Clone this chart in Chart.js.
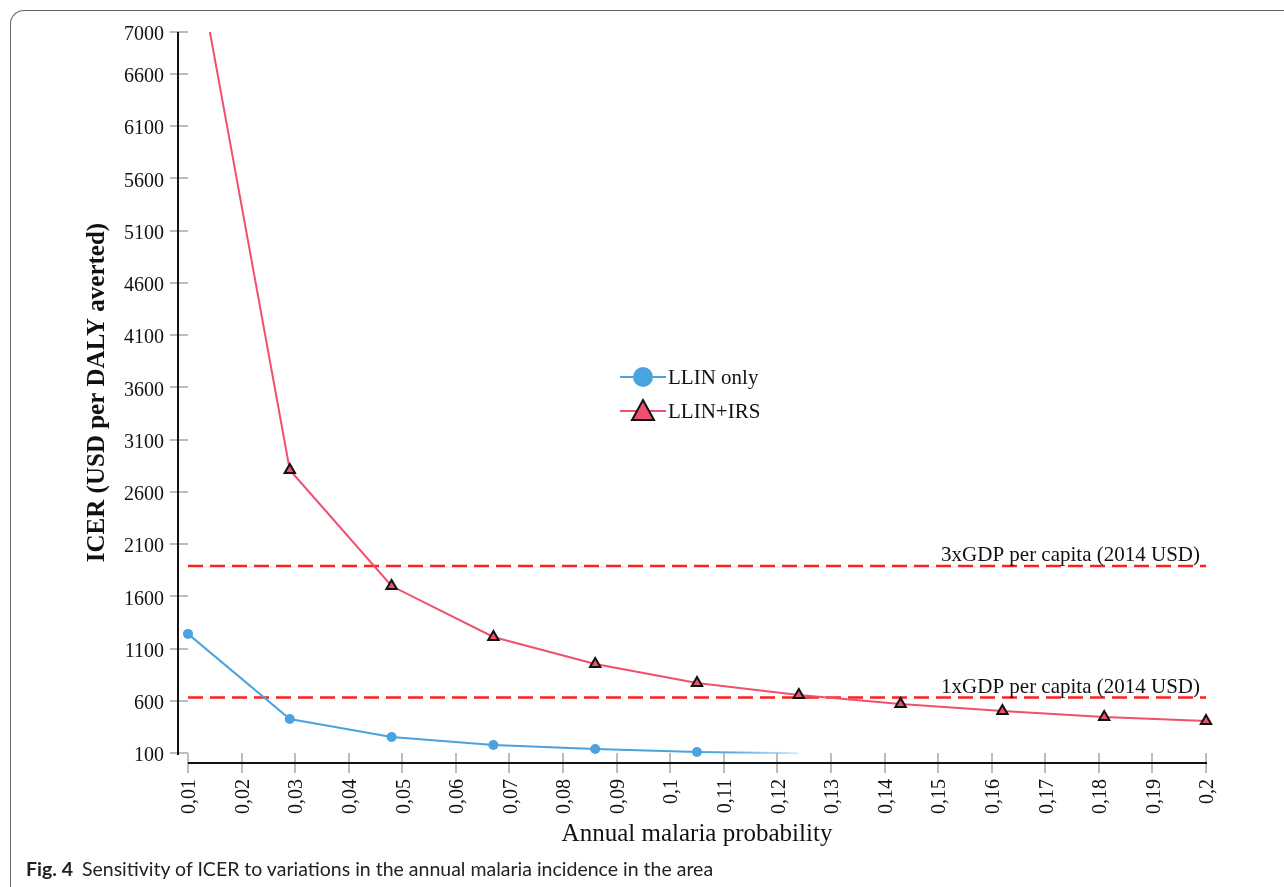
<!DOCTYPE html>
<html>
<head>
<meta charset="utf-8">
<script src="https://cdn.jsdelivr.net/npm/chart.js@4.4.1/dist/chart.umd.min.js"></script>
<style>
html,body{margin:0;padding:0;background:#fff;}
#wrap{position:relative;width:1284px;height:887px;overflow:hidden;}
#frame{position:absolute;left:10px;top:10px;width:1400px;height:1000px;border-left:1.5px solid #666;border-top:1.5px solid #666;border-top-left-radius:14px;box-sizing:border-box;}
#c{position:absolute;left:0;top:0;}
#caption{position:absolute;left:26px;top:857px;font-family:Lato,"Noto Sans",sans-serif;font-size:19.5px;color:#222;white-space:nowrap;}
#caption b{font-weight:bold;margin-right:9px;}
.leg{position:absolute;left:620px;height:30px;display:flex;align-items:center;font-family:"Liberation Serif",serif;font-size:21px;color:#111;}
.leg svg{margin-right:2px;}
</style>
</head>
<body>
<div id="wrap">
  <div id="frame"></div>
  <canvas id="c" width="1284" height="887"></canvas>
  <div class="leg" style="top:362px;">
    <svg width="46" height="30"><line x1="0" y1="15" x2="46" y2="15" stroke="#4aa3df" stroke-width="2"/><circle cx="23" cy="15" r="10" fill="#4aa3df"/></svg>
    <span>LLIN only</span>
  </div>
  <div class="leg" style="top:396px;">
    <svg width="46" height="30"><line x1="0" y1="15" x2="46" y2="15" stroke="#f0506e" stroke-width="2"/><polygon points="23,4 34,24 12,24" fill="#f0506e" stroke="#111" stroke-width="2" stroke-linejoin="miter"/></svg>
    <span>LLIN+IRS</span>
  </div>
  <div id="caption"><b>Fig. 4</b>Sensitivity of ICER to variations in the annual malaria incidence in the area</div>
</div>
<script>
// ---- data ----
const xValues = [0.01, 0.029, 0.048, 0.067, 0.086, 0.105, 0.124, 0.143, 0.162, 0.181, 0.2];
const llinOnly = [1240, 425, 253, 177, 138, 110, 98];
const llinIrs = [8150, 2808, 1698, 1210, 952, 770, 655, 569, 502, 444, 406];
const gdp1x = 630;
const gdp3x = 1890;
const gdpLabels = ['1xGDP per capita (2014 USD)', '3xGDP per capita (2014 USD)'];
const xTickValues = [0.01,0.02,0.03,0.04,0.05,0.06,0.07,0.08,0.09,0.1,0.11,0.12,0.13,0.14,0.15,0.16,0.17,0.18,0.19,0.2];
const xTickLabels = ['0,01','0,02','0,03','0,04','0,05','0,06','0,07','0,08','0,09','0,1','0,11','0,12','0,13','0,14','0,15','0,16','0,17','0,18','0,19','0,2'];
const yTickValues = [100,600,1100,1600,2100,2600,3100,3600,4100,4600,5100,5600,6100,6600,7000];
const yTickLabels = ['100','600','1100','1600','2100','2600','3100','3600','4100','4600','5100','5600','6100','6600','7000'];

const BLUE = '#4aa3df';
const RED = '#f0506e';
const DASH_RED = '#ff1f1f';
const SERIF = '"Liberation Serif", "Times New Roman", serif';

const xMin = xTickValues[0], xMax = xTickValues[xTickValues.length - 1];

function pts(vals) { return vals.map((y, i) => ({x: xValues[i], y})); }

const axisLines = {
  id: 'axisLines',
  afterDraw(chart) {
    const {ctx, chartArea: a} = chart;
    ctx.save();
    ctx.strokeStyle = '#111';
    ctx.lineWidth = 2;
    ctx.beginPath();
    ctx.moveTo(a.left - 10, a.top);
    ctx.lineTo(a.left - 10, a.bottom + 2);
    ctx.moveTo(a.left, a.bottom + 10);
    ctx.lineTo(a.right + 1, a.bottom + 10);
    ctx.stroke();
    // GDP labels
    const xs = chart.scales.x, ys = chart.scales.y;
    ctx.fillStyle = '#111';
    ctx.font = '21px ' + SERIF;
    ctx.textAlign = 'right';
    ctx.textBaseline = 'alphabetic';
    [gdp1x, gdp3x].forEach((v, i) => {
      ctx.fillText(gdpLabels[i], xs.getPixelForValue(xMax) - 6, ys.getPixelForValue(v) - 5);
    });
    ctx.restore();
  }
};

const lastBlue = llinOnly.length - 1;

new Chart(document.getElementById('c'), {
  type: 'line',
  data: {
    datasets: [
      {
        label: 'LLIN only',
        data: pts(llinOnly),
        borderColor: BLUE,
        backgroundColor: BLUE,
        borderWidth: 2,
        pointRadius: ctx => ctx.dataIndex === lastBlue ? 0 : 5,
        pointBorderWidth: 0,
        pointBackgroundColor: BLUE,
        tension: 0,
        clip: false,
        segment: {
          borderColor: ctx => {
            if (ctx.p1DataIndex !== lastBlue) return BLUE;
            const g = ctx.chart.ctx.createLinearGradient(ctx.p0.x, 0, ctx.p1.x + 20, 0);
            g.addColorStop(0, 'rgba(74,163,223,1)');
            g.addColorStop(0.3, 'rgba(74,163,223,0.9)');
            g.addColorStop(1, 'rgba(74,163,223,0)');
            return g;
          }
        }
      },
      {
        label: 'LLIN+IRS',
        data: pts(llinIrs),
        borderColor: RED,
        backgroundColor: RED,
        borderWidth: 2,
        pointStyle: 'triangle',
        pointRadius: 6,
        pointBorderWidth: 2,
        pointBorderColor: '#111',
        pointBackgroundColor: RED,
        tension: 0,
        clip: {left: 10, right: 10, top: 0, bottom: 10}
      },
      {
        label: '1xGDP',
        data: [{x: xMin, y: gdp1x}, {x: xMax, y: gdp1x}],
        borderColor: DASH_RED,
        borderWidth: 2.5,
        borderDash: [15, 7],
        pointRadius: 0
      },
      {
        label: '3xGDP',
        data: [{x: xMin, y: gdp3x}, {x: xMax, y: gdp3x}],
        borderColor: DASH_RED,
        borderWidth: 2.5,
        borderDash: [15, 7],
        pointRadius: 0
      }
    ]
  },
  options: {
    responsive: false,
    animation: false,
    events: [],
    layout: {padding: {left: 0, right: 78, top: 32, bottom: 38}},
    plugins: {legend: {display: false}, tooltip: {enabled: false}},
    scales: {
      x: {
        type: 'linear',
        min: xMin,
        max: xMax,
        afterBuildTicks: axis => { axis.ticks = xTickValues.map(v => ({value: v})); },
        afterFit: s => { s.height = 96; },
        grid: {drawOnChartArea: false, drawTicks: true, tickLength: 20, tickColor: '#bdbdbd', lineWidth: 2},
        border: {display: false},
        ticks: {
          autoSkip: false, minRotation: 90, maxRotation: 90, padding: 6, labelOffset: 2,
          color: '#111', font: {family: SERIF, size: 20},
          callback: (v, i) => xTickLabels[i]
        },
        title: {display: true, text: 'Annual malaria probability', color: '#111', font: {family: SERIF, size: 25}, padding: {top: 0, bottom: 0}}
      },
      y: {
        type: 'linear',
        min: yTickValues[0],
        max: yTickValues[yTickValues.length - 1],
        afterBuildTicks: axis => { axis.ticks = yTickValues.map(v => ({value: v})); },
        afterFit: s => { s.width = 188; },
        grid: {drawOnChartArea: false, drawTicks: true, tickLength: 18, tickColor: '#bdbdbd', lineWidth: 2},
        border: {display: false},
        ticks: {padding: 6, labelOffset: 3, color: '#111', font: {family: SERIF, size: 20}, callback: (v, i) => yTickLabels[i]},
        title: {display: true, text: 'ICER (USD per DALY averted)', color: '#111', font: {family: SERIF, size: 25, weight: 'bold'}, padding: {top: 83, bottom: 0}}
      }
    }
  },
  plugins: [axisLines]
});
</script>
</body>
</html>
